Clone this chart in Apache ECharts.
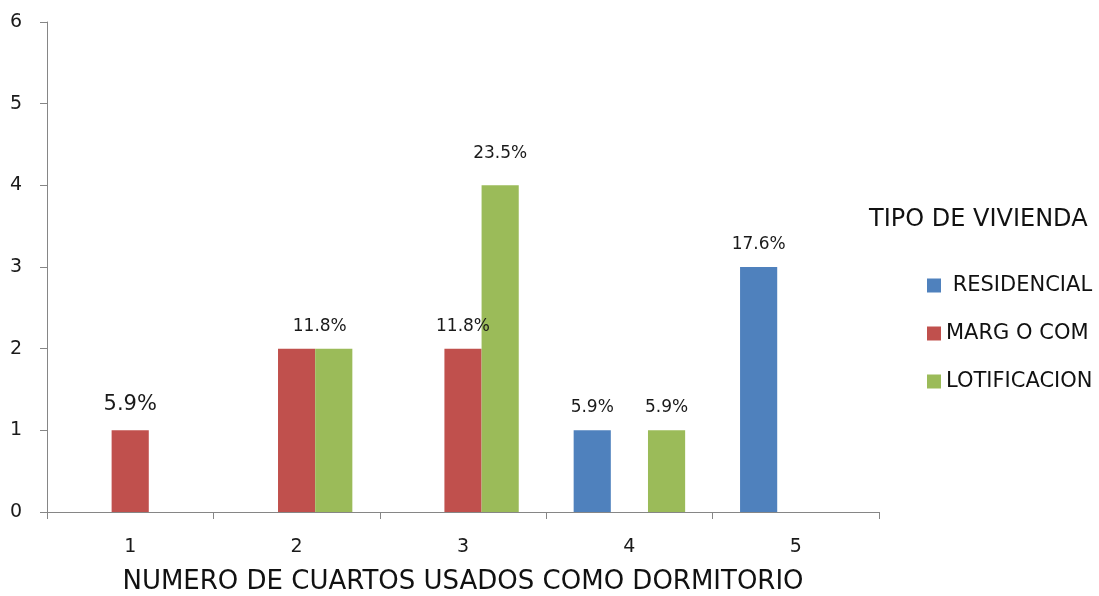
<!DOCTYPE html>
<html>
<head>
<meta charset="utf-8">
<script src="https://cdn.jsdelivr.net/npm/echarts@6/dist/echarts.min.js"></script>
<style>
  html, body { margin: 0; padding: 0; background: #fff; }
  #chart { width: 1099px; height: 596px; }
</style>
</head>
<body>
<div id="chart"></div>
<script>
const categories = ["1", "2", "3", "4", "5"];
const seriesNames = ["RESIDENCIAL", "MARG O COM", "LOTIFICACION"];
const residencial = [0, 0, 0, 1, 3];
const margOCom = [1, 2, 2, 0, 0];
const lotificacion = [0, 2, 4, 1, 0];
// percentage labels shown on top of bars ("" = none)
const residencialLabels = ["", "", "", "5.9%", "17.6%"];
const margOComLabels = ["5.9%", "", "11.8%", "", ""];
const lotificacionLabels = ["", "11.8%", "23.5%", "5.9%", ""];
const colors = ["#4F81BD", "#C0504D", "#9BBB59"];

const FONT = "DejaVu Sans";

function buildData(values, labels) {
  return values.map((v, i) => {
    const item = { value: v };
    if (labels[i]) {
      item.label = {
        show: true,
        formatter: labels[i],
        position: "top",
        distance: 14,
        fontSize: 17,
        color: "#1a1a1a",
        fontFamily: FONT
      };
    }
    return item;
  });
}

const resData = buildData(residencial, residencialLabels);
const margData = buildData(margOCom, margOComLabels);
const lotData = buildData(lotificacion, lotificacionLabels);
// first label is drawn a little larger in the original
margData[0].label.fontSize = 21;
margData[0].label.distance = 15;
// cat 2 label sits between the two bars
lotData[1].label.offset = [-14, 0];
lotData[2].label.distance = 23;

const chart = echarts.init(document.getElementById("chart"));
chart.setOption({
  animation: false,
  color: colors,
  title: {
    text: "TIPO DE VIVIENDA",
    left: 864,
    top: 203,
    textStyle: { fontFamily: FONT, fontSize: 24, fontWeight: "normal", color: "#111" }
  },
  legend: {
    orient: "vertical",
    left: 922,
    top: 270,
    itemWidth: 14,
    itemHeight: 14,
    itemGap: 27,
    icon: "rect",
    data: seriesNames,
    formatter: name => (name === "RESIDENCIAL" ? " " + name : name),
    textStyle: { fontFamily: FONT, fontSize: 21, color: "#111" }
  },
  grid: { left: 47, right: 220, top: 22, bottom: 84, outerBoundsMode: "none" },
  xAxis: {
    type: "category",
    data: categories,
    name: "NUMERO DE CUARTOS USADOS COMO DORMITORIO",
    nameLocation: "middle",
    nameGap: 57,
    nameTextStyle: { fontFamily: FONT, fontSize: 26, color: "#111" },
    axisLine: { lineStyle: { color: "#868686", width: 1 } },
    axisTick: { show: true, length: 7, lineStyle: { color: "#868686" } },
    axisLabel: { fontFamily: FONT, fontSize: 19, color: "#1a1a1a", margin: 26 }
  },
  yAxis: {
    type: "value",
    min: 0,
    max: 6,
    interval: 1,
    axisLine: { show: true, lineStyle: { color: "#868686", width: 1 } },
    axisTick: { show: true, length: 7, lineStyle: { color: "#868686" } },
    axisLabel: { fontFamily: FONT, fontSize: 19, color: "#1a1a1a", margin: 25 },
    splitLine: { show: false }
  },
  series: [
    { name: seriesNames[0], type: "bar", data: resData, barGap: "0%", barCategoryGap: "33%" },
    { name: seriesNames[1], type: "bar", data: margData, barGap: "0%", barCategoryGap: "33%" },
    { name: seriesNames[2], type: "bar", data: lotData, barGap: "0%", barCategoryGap: "33%" }
  ]
});
</script>
</body>
</html>
